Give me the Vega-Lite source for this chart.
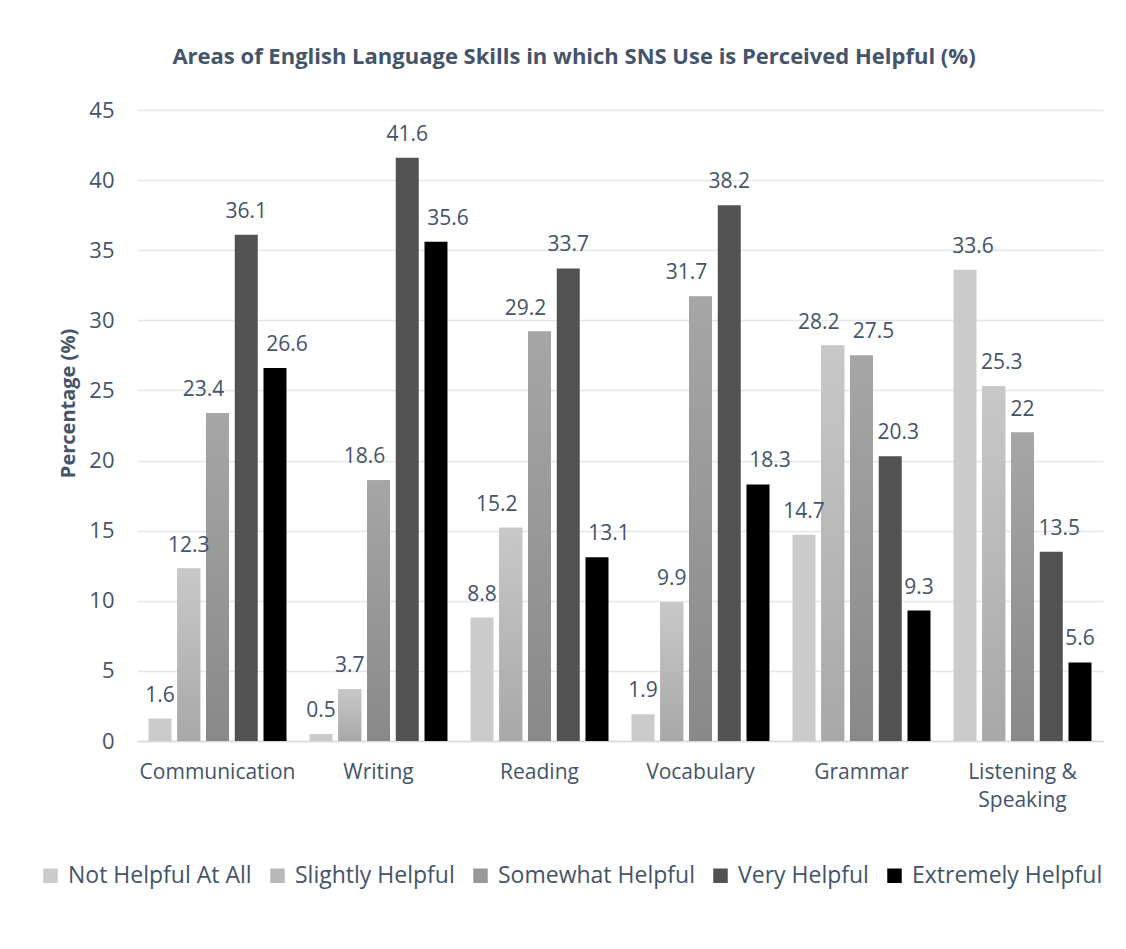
{
  "$schema": "https://vega.github.io/schema/vega-lite/v6.json",
  "autosize": {"type": "none"},
  "width": 966,
  "height": 631,
  "padding": {"left": 137, "top": 110, "right": 23, "bottom": 208},
  "background": "white",
  "config": {
    "font": "Open Sans",
    "view": {"stroke": null}
  },
  "title": {
    "text": "Areas of English Language Skills in which SNS Use is Perceived Helpful (%)",
    "font": "Open Sans",
    "fontSize": 22,
    "fontWeight": "bold",
    "color": "#44546a",
    "anchor": "middle",
    "dx": -46,
    "offset": 30
  },
  "data": {
    "values": [
      {"skill": "Communication", "level": "Not Helpful At All", "pct": 1.6},
      {"skill": "Communication", "level": "Slightly Helpful", "pct": 12.3},
      {"skill": "Communication", "level": "Somewhat Helpful", "pct": 23.4},
      {"skill": "Communication", "level": "Very Helpful", "pct": 36.1},
      {"skill": "Communication", "level": "Extremely Helpful", "pct": 26.6},
      {"skill": "Writing", "level": "Not Helpful At All", "pct": 0.5},
      {"skill": "Writing", "level": "Slightly Helpful", "pct": 3.7},
      {"skill": "Writing", "level": "Somewhat Helpful", "pct": 18.6},
      {"skill": "Writing", "level": "Very Helpful", "pct": 41.6},
      {"skill": "Writing", "level": "Extremely Helpful", "pct": 35.6},
      {"skill": "Reading", "level": "Not Helpful At All", "pct": 8.8},
      {"skill": "Reading", "level": "Slightly Helpful", "pct": 15.2},
      {"skill": "Reading", "level": "Somewhat Helpful", "pct": 29.2},
      {"skill": "Reading", "level": "Very Helpful", "pct": 33.7},
      {"skill": "Reading", "level": "Extremely Helpful", "pct": 13.1},
      {"skill": "Vocabulary", "level": "Not Helpful At All", "pct": 1.9},
      {"skill": "Vocabulary", "level": "Slightly Helpful", "pct": 9.9},
      {"skill": "Vocabulary", "level": "Somewhat Helpful", "pct": 31.7},
      {"skill": "Vocabulary", "level": "Very Helpful", "pct": 38.2},
      {"skill": "Vocabulary", "level": "Extremely Helpful", "pct": 18.3},
      {"skill": "Grammar", "level": "Not Helpful At All", "pct": 14.7},
      {"skill": "Grammar", "level": "Slightly Helpful", "pct": 28.2},
      {"skill": "Grammar", "level": "Somewhat Helpful", "pct": 27.5},
      {"skill": "Grammar", "level": "Very Helpful", "pct": 20.3},
      {"skill": "Grammar", "level": "Extremely Helpful", "pct": 9.3},
      {"skill": "Listening & Speaking", "level": "Not Helpful At All", "pct": 33.6},
      {"skill": "Listening & Speaking", "level": "Slightly Helpful", "pct": 25.3},
      {"skill": "Listening & Speaking", "level": "Somewhat Helpful", "pct": 22},
      {"skill": "Listening & Speaking", "level": "Very Helpful", "pct": 13.5},
      {"skill": "Listening & Speaking", "level": "Extremely Helpful", "pct": 5.6}
    ]
  },
  "encoding": {
    "x": {
      "field": "skill",
      "type": "nominal",
      "sort": ["Communication", "Writing", "Reading", "Vocabulary", "Grammar", "Listening & Speaking"],
      "scale": {"domain": ["Communication", "Writing", "Reading", "Vocabulary", "Grammar", "Listening & Speaking"], "paddingInner": 0.143, "paddingOuter": 0.0715},
      "axis": {
        "title": null,
        "labelAngle": 0,
        "labelFontSize": 21,
        "labelColor": "#44546a",
        "labelPadding": 20,
        "labelBaseline": "top",
        "labelLineHeight": 28,
        "labelExpr": "datum.value == 'Listening & Speaking' ? ['Listening &', 'Speaking'] : datum.value",
        "ticks": false,
        "domainColor": "#d9d9d9",
        "domainWidth": 1.5,
        "grid": false
      }
    },
    "xOffset": {
      "field": "level",
      "type": "nominal",
      "scale": {"domain": ["Not Helpful At All", "Slightly Helpful", "Somewhat Helpful", "Very Helpful", "Extremely Helpful"], "paddingInner": 0.2, "paddingOuter": 0}
    },
    "y": {
      "field": "pct",
      "type": "quantitative",
      "scale": {"domain": [0, 45], "nice": false},
      "axis": {
        "title": "Percentage (%)",
        "titleFontSize": 20,
        "titleFontWeight": "bold",
        "titleColor": "#44546a",
        "titleAngle": -90,
        "titleX": -69,
        "titleY": 293,
        "titleAlign": "center",
        "titleBaseline": "middle",
        "values": [0, 5, 10, 15, 20, 25, 30, 35, 40, 45],
        "labelFontSize": 22,
        "labelColor": "#44546a",
        "labelPadding": 23,
        "ticks": false,
        "domain": false,
        "gridColor": "#e3e7ec",
        "gridWidth": 1.5
      }
    }
  },
  "layer": [
    {
      "mark": {"type": "bar"},
      "encoding": {
        "color": {
          "field": "level",
          "type": "nominal",
          "scale": {
            "domain": ["Not Helpful At All", "Slightly Helpful", "Somewhat Helpful", "Very Helpful", "Extremely Helpful"],
            "range": ["#cbcbcb", "#b8b8b8", "#989898", "#525252", "#000000"]
          },
          "legend": {
            "title": null,
            "orient": "none",
            "direction": "horizontal",
            "legendX": -98,
            "legendY": 754,
            "symbolType": "square",
            "symbolSize": 210,
            "symbolStrokeWidth": 0,
            "labelFontSize": 23,
            "labelLimit": 0,
            "labelColor": "#44546a",
            "labelOffset": 6,
            "columnPadding": 14
          }
        }
      }
    },
    {
      "transform": [{"filter": "datum.level == 'Slightly Helpful'"}],
      "mark": {"type": "bar", "color": {"gradient": "linear", "x1": 0, "y1": 0, "x2": 0, "y2": 1, "stops": [{"offset": 0, "color": "#c8c8c8"}, {"offset": 1, "color": "#a8a8a8"}]}},
      "encoding": {}
    },
    {
      "transform": [{"filter": "datum.level == 'Somewhat Helpful'"}],
      "mark": {"type": "bar", "color": {"gradient": "linear", "x1": 0, "y1": 0, "x2": 0, "y2": 1, "stops": [{"offset": 0, "color": "#a6a6a6"}, {"offset": 1, "color": "#898989"}]}},
      "encoding": {}
    },
    {
      "transform": [{"filter": "indexof(['Communication|Somewhat Helpful','Reading|Somewhat Helpful','Vocabulary|Somewhat Helpful','Reading|Slightly Helpful','Writing|Somewhat Helpful','Grammar|Slightly Helpful','Communication|Extremely Helpful','Writing|Extremely Helpful','Reading|Extremely Helpful','Vocabulary|Extremely Helpful','Grammar|Somewhat Helpful','Listening & Speaking|Not Helpful At All','Listening & Speaking|Slightly Helpful','Listening & Speaking|Very Helpful','Grammar|Very Helpful'], datum.skill + '|' + datum.level) < 0"}],
      "mark": {"type": "text", "baseline": "alphabetic", "dy": -17, "fontSize": 21, "color": "#44546a"},
      "encoding": {"text": {"field": "pct", "type": "quantitative"}}
    },
    {
      "transform": [{"filter": "indexof(['Communication|Somewhat Helpful','Reading|Somewhat Helpful','Vocabulary|Somewhat Helpful','Reading|Slightly Helpful','Writing|Somewhat Helpful','Grammar|Slightly Helpful'], datum.skill + '|' + datum.level) >= 0"}],
      "mark": {"type": "text", "baseline": "alphabetic", "dy": -17, "dx": -14, "fontSize": 21, "color": "#44546a"},
      "encoding": {"text": {"field": "pct", "type": "quantitative"}}
    },
    {
      "transform": [{"filter": "indexof(['Communication|Extremely Helpful','Writing|Extremely Helpful','Reading|Extremely Helpful','Vocabulary|Extremely Helpful','Grammar|Somewhat Helpful'], datum.skill + '|' + datum.level) >= 0"}],
      "mark": {"type": "text", "baseline": "alphabetic", "dy": -17, "dx": 12, "fontSize": 21, "color": "#44546a"},
      "encoding": {"text": {"field": "pct", "type": "quantitative"}}
    },
    {
      "transform": [{"filter": "indexof(['Listening & Speaking|Not Helpful At All','Listening & Speaking|Slightly Helpful','Listening & Speaking|Very Helpful','Grammar|Very Helpful'], datum.skill + '|' + datum.level) >= 0"}],
      "mark": {"type": "text", "baseline": "alphabetic", "dy": -17, "dx": 8, "fontSize": 21, "color": "#44546a"},
      "encoding": {"text": {"field": "pct", "type": "quantitative"}}
    }
  ]
}
